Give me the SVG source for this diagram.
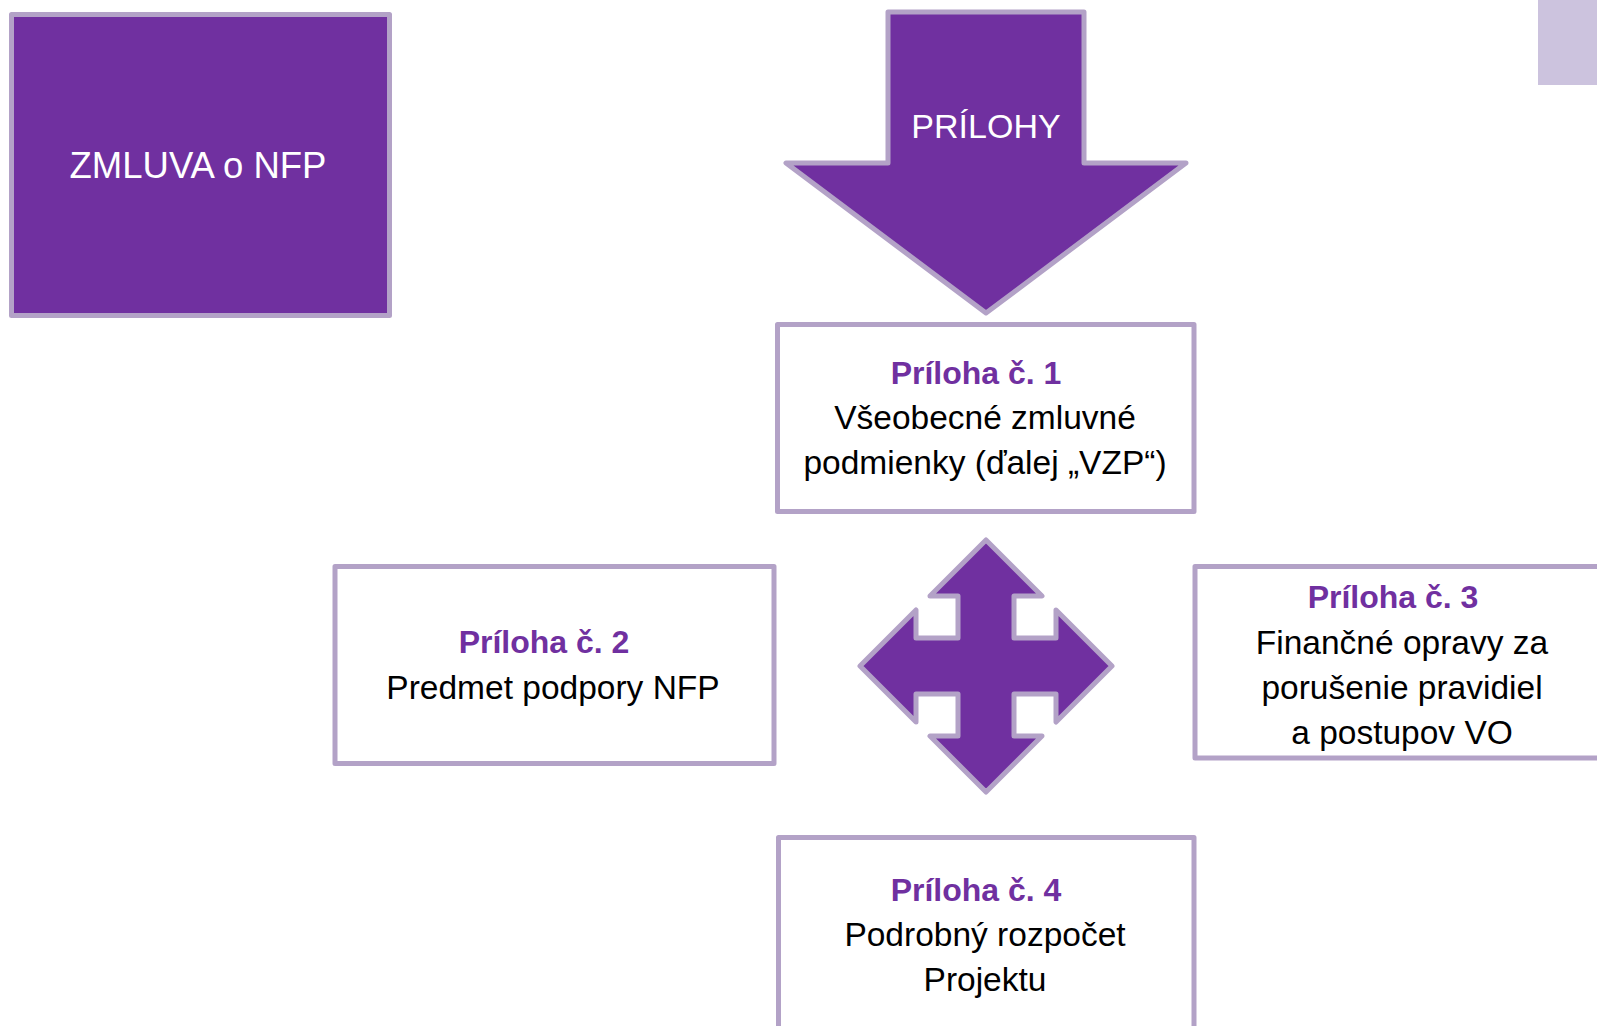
<svg xmlns="http://www.w3.org/2000/svg" width="1597" height="1026" viewBox="0 0 1597 1026">
  <style>
    .purple { fill: #7030A0; stroke: #B3A2C7; stroke-width: 5; stroke-linejoin: round; }
    .box { fill: #FFFFFF; stroke: #B3A2C7; stroke-width: 5; stroke-linejoin: round; }
    .white { fill: #FFFFFF; font-family: "Liberation Sans", Arial, sans-serif; text-anchor: middle; }
    .title { fill: #7030A0; font-family: "Liberation Sans", Arial, sans-serif; font-weight: bold; font-size: 32px; text-anchor: middle; }
    .body { fill: #000000; font-family: "Liberation Sans", Arial, sans-serif; font-size: 33.5px; text-anchor: middle; }
  </style>
  <rect width="1597" height="1026" fill="#FFFFFF"/>
  <rect id="corner-accent" x="1538" y="0" width="59" height="85" fill="#CCC3DE"/>

  <g id="zmluva">
    <rect class="purple" x="11.5" y="14.5" width="378" height="301"/>
    <text class="white" x="198" y="178" font-size="36.5">ZMLUVA o NFP</text>
  </g>

  <g id="prilohy">
    <polygon class="purple" points="888,12 1084,12 1084,163 1186,163 986,313 786,163 888,163"/>
    <text class="white" x="986" y="138" font-size="34">PRÍLOHY</text>
  </g>

  <g id="priloha1">
    <rect class="box" x="777.5" y="324.5" width="416.5" height="187"/>
    <text class="title" x="976" y="384">Príloha č. 1</text>
    <text class="body" x="985" y="429">Všeobecné zmluvné</text>
    <text class="body" x="985" y="474">podmienky (ďalej „VZP“)</text>
  </g>

  <g id="priloha2">
    <rect class="box" x="335" y="566.5" width="439" height="197"/>
    <text class="title" x="544" y="653">Príloha č. 2</text>
    <text class="body" x="553" y="699">Predmet podpory NFP</text>
  </g>

  <g id="priloha3">
    <rect class="box" x="1195" y="566.5" width="417" height="191.5"/>
    <text class="title" x="1393" y="608">Príloha č. 3</text>
    <text class="body" x="1402" y="654">Finančné opravy za</text>
    <text class="body" x="1402" y="699">porušenie pravidiel</text>
    <text class="body" x="1402" y="744">a postupov VO</text>
  </g>

  <g id="priloha4">
    <rect class="box" x="778.5" y="837.5" width="415.5" height="220"/>
    <text class="title" x="976" y="901">Príloha č. 4</text>
    <text class="body" x="985" y="946">Podrobný rozpočet</text>
    <text class="body" x="985" y="991">Projektu</text>
  </g>

  <g id="connectors">
    <polygon class="purple" transform="translate(986 666)" points="0,-126 56,-70 28,-70 28,-28 70,-28 70,-56 126,0 70,56 70,28 28,28 28,70 56,70 0,126 -56,70 -28,70 -28,28 -70,28 -70,56 -126,0 -70,-56 -70,-28 -28,-28 -28,-70 -56,-70"/>
  </g>
</svg>
